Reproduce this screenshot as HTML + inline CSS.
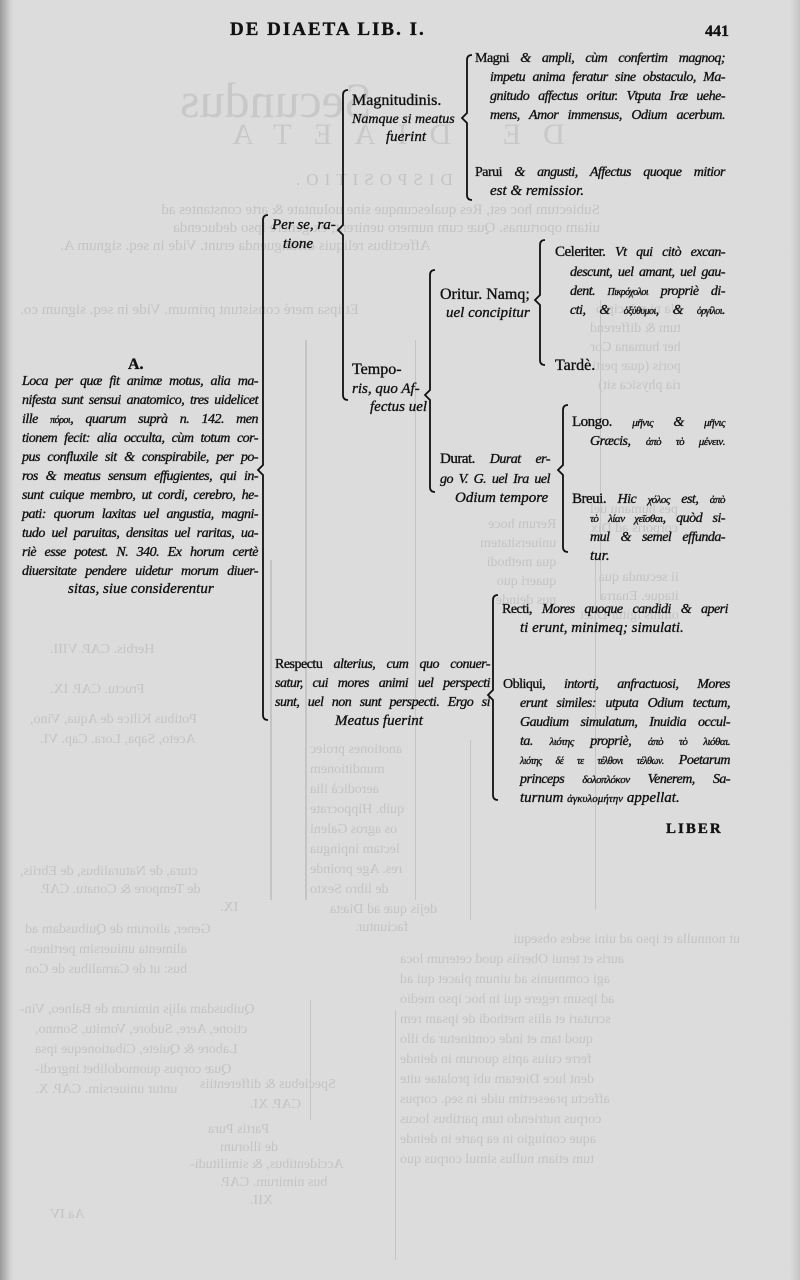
<!DOCTYPE html>
<html><head><meta charset="utf-8">
<style>
html,body{margin:0;padding:0}
body{width:800px;height:1280px;position:relative;overflow:hidden;background:#dcdcdc;
font-family:"Liberation Serif",serif;color:#111}
.edge{position:absolute;top:0;bottom:0;left:0;width:14px;background:linear-gradient(90deg,#9a9a9a,#cfcfcf 70%,#dcdcdc)}
.edge2{position:absolute;top:0;bottom:0;right:0;width:10px;background:linear-gradient(270deg,#c4c4c4,#dcdcdc)}
.t{position:absolute;font-style:italic;font-size:15px;line-height:19px;white-space:nowrap;-webkit-text-stroke:0.35px #111}
.j{text-align:justify;text-align-last:justify;white-space:normal;overflow:visible;font-size:14px;letter-spacing:-0.5px;word-spacing:-1px}
.u{font-style:normal}
.g{position:absolute;color:#c3c3c3;font-size:14px;line-height:20px;white-space:nowrap;transform:scaleX(-1);transform-origin:center}
.gl{position:absolute;background:#c4c4c4}
</style></head><body>
<div class="edge"></div><div class="edge2"></div>

<div class="g" style="left:180px;top:70px;font-size:50px;line-height:60px;color:#c8c8c8">Secundus</div>
<div class="g" style="left:210px;top:125px;font-size:30px;letter-spacing:22px;color:#c8c8c8">DE DIAETA</div>
<div class="g" style="left:290px;top:170px;font-size:17px;letter-spacing:6px">DISPOSITIO.</div>
<div class="g" style="left:20px;top:200px;width:580px;font-size:15px">Subiectum hoc est, Res qualescunque sine uoluntate &amp; arte constantes ad</div>
<div class="g" style="left:20px;top:218px;width:580px;font-size:15px">uitam oportunas. Quæ cum numero uenirent, ex genere ipso deducenda</div>
<div class="g" style="left:60px;top:236px;font-size:15px">Affectibus reliquis distinguenda erunt. Vide in seq. signum A.</div>
<div class="g" style="left:20px;top:300px;font-size:15px">Et ipsa merè consistunt primum. Vide in seq. signum co.</div>
<div class="g" style="left:20px;top:1000px;font-size:14px">Quibusdam alijs nimirum de Balneo, Vin-</div>
<div class="g" style="left:35px;top:1020px;font-size:14px">ctione, Aere, Sudore, Vomitu, Somno,</div>
<div class="g" style="left:35px;top:1040px;font-size:14px">Labore &amp; Quiete, Cibationeque ipsa</div>
<div class="g" style="left:35px;top:1060px;font-size:14px">Quæ corpus quomodolibet ingredi-</div>
<div class="g" style="left:35px;top:1080px;font-size:14px">untur uniuersim. CAP. X.</div>
<div class="g" style="left:25px;top:920px;font-size:14px">Gener, aliorum de Quibusdam ad</div>
<div class="g" style="left:25px;top:940px;font-size:14px">alimenta uniuersim pertinen-</div>
<div class="g" style="left:25px;top:960px;font-size:14px">bus: ut de Carnalibus de Con</div>
<div class="g" style="left:20px;top:862px;font-size:14px">ctura, de Naturalibus, de Ebriis,</div>
<div class="g" style="left:40px;top:880px;font-size:14px">de Tempore &amp; Conatu. CAP.</div>
<div class="g" style="left:220px;top:898px;font-size:14px">IX.</div>
<div class="g" style="left:30px;top:710px;font-size:14px">Potibus Kilice de Aqua, Vino,</div>
<div class="g" style="left:40px;top:730px;font-size:14px">Aceto, Sapa, Lora. Cap. VI.</div>
<div class="g" style="left:50px;top:640px;font-size:14px">Herbis. CAP. VIII.</div>
<div class="g" style="left:50px;top:680px;font-size:14px">Fructu. CAP. IX.</div>
<div class="g" style="left:200px;top:1075px;font-size:14px">Speciebus &amp; differentiis</div>
<div class="g" style="left:250px;top:1095px;font-size:14px">CAP. XI.</div>
<div class="g" style="left:208px;top:1120px;font-size:14px">Partis Pura</div>
<div class="g" style="left:220px;top:1138px;font-size:14px">de illorum</div>
<div class="g" style="left:190px;top:1155px;font-size:14px">Accidentibus, &amp; similitudi-</div>
<div class="g" style="left:220px;top:1173px;font-size:14px">bus nimirum. CAP.</div>
<div class="g" style="left:250px;top:1191px;font-size:14px">XII.</div>
<div class="g" style="left:50px;top:1205px;font-size:14px">Aa IV</div>
<div class="g" style="left:310px;top:740px;font-size:14px">anotiones proiec</div>
<div class="g" style="left:310px;top:760px;font-size:14px">munditionem</div>
<div class="g" style="left:310px;top:780px;font-size:14px">aerodicà ilia</div>
<div class="g" style="left:310px;top:800px;font-size:14px">quib. Hippocrate</div>
<div class="g" style="left:310px;top:820px;font-size:14px">os agros Galeni</div>
<div class="g" style="left:310px;top:840px;font-size:14px">lectam inpingua</div>
<div class="g" style="left:310px;top:860px;font-size:14px">res. Age proinde</div>
<div class="g" style="left:310px;top:880px;font-size:14px">de libro Sexto</div>
<div class="g" style="left:330px;top:900px;font-size:14px">dejis quæ ad Diæta</div>
<div class="g" style="left:355px;top:918px;font-size:14px">faciuntur.</div>
<div class="g" style="left:400px;top:930px;width:340px;font-size:14px">ut nonnulla et ipso ad uini sedes obsequi</div>
<div class="g" style="left:400px;top:950px;font-size:14px">auris et tenui Oberiis quod ceterum loca</div>
<div class="g" style="left:400px;top:970px;font-size:14px">agi communis ad uinum placet qui ad</div>
<div class="g" style="left:400px;top:990px;font-size:14px">ad ipsum regere qui in hoc ipso medio</div>
<div class="g" style="left:400px;top:1010px;font-size:14px">scrutari et aliis methodi de ipsam rem</div>
<div class="g" style="left:400px;top:1030px;font-size:14px">quod tam et inde continetur ab illo</div>
<div class="g" style="left:400px;top:1050px;font-size:14px">ferre cuius aptis quorum in deinde</div>
<div class="g" style="left:400px;top:1070px;font-size:14px">dent luce Diœtam ubi prolatae uite</div>
<div class="g" style="left:400px;top:1090px;font-size:14px">affectu praesertim uide in seq. corpus</div>
<div class="g" style="left:400px;top:1110px;font-size:14px">corpus nutriendo tum partibus locus</div>
<div class="g" style="left:400px;top:1130px;font-size:14px">aque coniugio in ea parte in deinde</div>
<div class="g" style="left:400px;top:1150px;font-size:14px">tum etiam nullus simul corpus quo</div>
<div class="g" style="left:590px;top:300px;font-size:14px;line-height:19px">Na ni principio<br>tum &amp; differend<br>her humana Cor<br>poris (quæ perti<br>ria physica sit)</div>
<div class="g" style="left:590px;top:500px;font-size:14px;line-height:19px">pes humanu uel<br>corporis ad Dix</div>
<div class="g" style="left:580px;top:568px;font-size:14px;line-height:19px">ii secunda qua<br>itaque. Enarra<br>omnis igitur Diæt</div>
<div class="g" style="left:480px;top:515px;font-size:14px;line-height:19px">Rerum hoce<br>uniuersitatem<br>qua methodi<br>quaeri quo<br>nus deinde</div>
<div class="gl" style="left:305px;top:340px;width:2px;height:560px"></div>
<div class="gl" style="left:415px;top:340px;width:1px;height:560px"></div>
<div class="gl" style="left:470px;top:740px;width:1px;height:180px"></div>
<div class="gl" style="left:600px;top:300px;width:1px;height:300px"></div>
<div class="gl" style="left:595px;top:560px;width:1px;height:350px"></div>
<div class="gl" style="left:395px;top:1010px;width:1px;height:250px"></div>
<div class="gl" style="left:310px;top:1000px;width:1px;height:120px"></div>
<div class="gl" style="left:270px;top:560px;width:2px;height:340px"></div>

<div class="t u" style="left:230px;top:20px;font-size:19px;letter-spacing:2px;font-weight:bold">DE DIAETA LIB. I.</div>
<div class="t u" style="left:705px;top:22px;font-size:16px;font-weight:bold">441</div>

<svg width="800" height="1280" style="position:absolute;left:0;top:0" fill="none" stroke="#111" stroke-width="1.8">
<path d="M472 55 Q467 55 467 60 L467 113 L462 118 L467 123 L467 195 Q467 200 472 200"/>
<path d="M348 90 Q343 90 343 95 L343 225 L338 230 L343 235 L343 395 Q343 400 348 400"/>
<path d="M268 215 Q263 215 263 220 L263 465 L258 470 L263 475 L263 715 Q263 720 268 720"/>
<path d="M435 270 Q430 270 430 275 L430 390 L425 395 L430 400 L430 487 Q430 492 435 492"/>
<path d="M545 240 Q540 240 540 245 L540 295 L535 300 L540 305 L540 360 Q540 365 545 365"/>
<path d="M568 405 Q563 405 563 410 L563 465 L558 470 L563 475 L563 547 Q563 552 568 552"/>
<path d="M498 595 Q493 595 493 600 L493 690 L488 695 L493 700 L493 795 Q493 800 498 800"/>
</svg>

<div class="t j" style="left:475px;top:49px;width:250px"><span class="u">Magni</span> &amp; ampli, cùm confertim magnoq;</div>
<div class="t j" style="left:490px;top:68px;width:235px">impetu anima feratur sine obstaculo, Ma-</div>
<div class="t j" style="left:490px;top:87px;width:235px">gnitudo affectus oritur. Vtputa Iræ uehe-</div>
<div class="t j" style="left:490px;top:106px;width:235px">mens, Amor immensus, Odium acerbum.</div>
<div class="t j" style="left:475px;top:163px;width:250px"><span class="u">Parui</span> &amp; angusti, Affectus quoque mitior</div>
<div class="t" style="left:490px;top:182px">est &amp; remissior.</div>

<div class="t u" style="left:352px;top:91px;font-size:16px">Magnitudinis.</div>
<div class="t" style="left:352px;top:110px;font-size:14px">Namque si meatus</div>
<div class="t" style="left:386px;top:128px">fuerint</div>

<div class="t" style="left:272px;top:216px">Per se, ra-</div>
<div class="t" style="left:283px;top:235px">tione</div>

<div class="t u" style="left:352px;top:360px;font-size:16px">Tempo-</div>
<div class="t" style="left:352px;top:380px">ris, quo Af-</div>
<div class="t" style="left:370px;top:398px">fectus uel</div>

<div class="t u" style="left:440px;top:285px;font-size:16px">Oritur. Namq;</div>
<div class="t" style="left:446px;top:304px">uel concipitur</div>

<div class="t j" style="left:555px;top:243px;width:170px"><span class="u" style="font-size:15px">Celeriter.</span> Vt qui citò excan-</div>
<div class="t j" style="left:570px;top:263px;width:155px">descunt, uel amant, uel gau-</div>
<div class="t j" style="left:570px;top:282px;width:155px">dent. <span style="font-size:10px">Πικρόχολοι</span> propriè di-</div>
<div class="t j" style="left:570px;top:301px;width:155px">cti, &amp; <span style="font-size:10px">ὀξύθυμοι</span>, &amp; <span style="font-size:10px">ὀργίλοι</span>.</div>
<div class="t u" style="left:555px;top:356px;font-size:16px">Tardè.</div>

<div class="t j" style="left:440px;top:450px;width:110px"><span class="u" style="font-size:15px">Durat.</span> Durat er-</div>
<div class="t j" style="left:440px;top:470px;width:110px">go V. G. uel Ira uel</div>
<div class="t" style="left:455px;top:489px">Odium tempore</div>

<div class="t j" style="left:572px;top:413px;width:153px"><span class="u" style="font-size:15px">Longo.</span> <span style="font-size:11px">μῆνις</span> &amp; <span style="font-size:11px">μῆνις</span></div>
<div class="t j" style="left:590px;top:432px;width:135px">Græcis, <span style="font-size:11px">ἀπὸ τὸ μένειν.</span></div>
<div class="t j" style="left:572px;top:490px;width:153px"><span class="u" style="font-size:15px">Breui.</span> Hic <span style="font-size:11px">χόλος</span> est, <span style="font-size:11px">ἀπὸ</span></div>
<div class="t j" style="left:590px;top:509px;width:135px"><span style="font-size:11px">τὸ λίαν χεῖσθαι</span>, quòd si-</div>
<div class="t j" style="left:590px;top:528px;width:135px">mul &amp; semel effunda-</div>
<div class="t" style="left:590px;top:547px">tur.</div>

<div class="t j" style="left:502px;top:600px;width:226px"><span class="u">Recti,</span> Mores quoque candidi &amp; aperi</div>
<div class="t" style="left:520px;top:619px">ti erunt, minimeq; simulati.</div>

<div class="t j" style="left:503px;top:675px;width:227px"><span class="u">Obliqui,</span> intorti, anfractuosi, Mores</div>
<div class="t j" style="left:520px;top:694px;width:210px">erunt similes: utputa Odium tectum,</div>
<div class="t j" style="left:520px;top:713px;width:210px">Gaudium simulatum, Inuidia occul-</div>
<div class="t j" style="left:520px;top:732px;width:210px">ta. <span style="font-size:11px">λιότης</span> propriè, <span style="font-size:11px">ἀπὸ τὸ λιόθαι.</span></div>
<div class="t j" style="left:520px;top:751px;width:210px"><span style="font-size:10px">λιότης δέ τε τέλθονι τέλθων.</span> Poetarum</div>
<div class="t j" style="left:520px;top:770px;width:210px">princeps <span style="font-size:11px">δολοπλόκον</span> Venerem, Sa-</div>
<div class="t" style="left:520px;top:789px">turnum <span style="font-size:11px">ἀγκυλομήτην</span> appellat.</div>

<div class="t j" style="left:275px;top:655px;width:215px"><span class="u">Respectu</span> alterius, cum quo conuer-</div>
<div class="t j" style="left:275px;top:674px;width:215px">satur, cui mores animi uel perspecti</div>
<div class="t j" style="left:275px;top:693px;width:215px">sunt, uel non sunt perspecti. Ergo si</div>
<div class="t" style="left:335px;top:712px">Meatus fuerint</div>

<div class="t u" style="left:666px;top:820px;font-size:15px;letter-spacing:2px;font-weight:bold">LIBER</div>

<div class="t u" style="left:128px;top:355px;font-size:16px;font-weight:bold">A.</div>
<div class="t j" style="left:22px;top:372px;width:236px">Loca per quæ fit animæ motus, alia ma-</div>
<div class="t j" style="left:22px;top:391px;width:236px">nifesta sunt sensui anatomico, tres uidelicet</div>
<div class="t j" style="left:22px;top:410px;width:236px">ille <span style="font-size:10px">πόροι</span>, quarum suprà n. 142. men</div>
<div class="t j" style="left:22px;top:429px;width:236px">tionem fecit: alia occulta, cùm totum cor-</div>
<div class="t j" style="left:22px;top:448px;width:236px">pus confluxile sit &amp; conspirabile, per po-</div>
<div class="t j" style="left:22px;top:467px;width:236px">ros &amp; meatus sensum effugientes, qui in-</div>
<div class="t j" style="left:22px;top:486px;width:236px">sunt cuique membro, ut cordi, cerebro, he-</div>
<div class="t j" style="left:22px;top:505px;width:236px">pati: quorum laxitas uel angustia, magni-</div>
<div class="t j" style="left:22px;top:524px;width:236px">tudo uel paruitas, densitas uel raritas, ua-</div>
<div class="t j" style="left:22px;top:543px;width:236px">riè esse potest. N. 340. Ex horum certè</div>
<div class="t j" style="left:22px;top:562px;width:236px">diuersitate pendere uidetur morum diuer-</div>
<div class="t" style="left:68px;top:580px">sitas, siue considerentur</div>
</body></html>
